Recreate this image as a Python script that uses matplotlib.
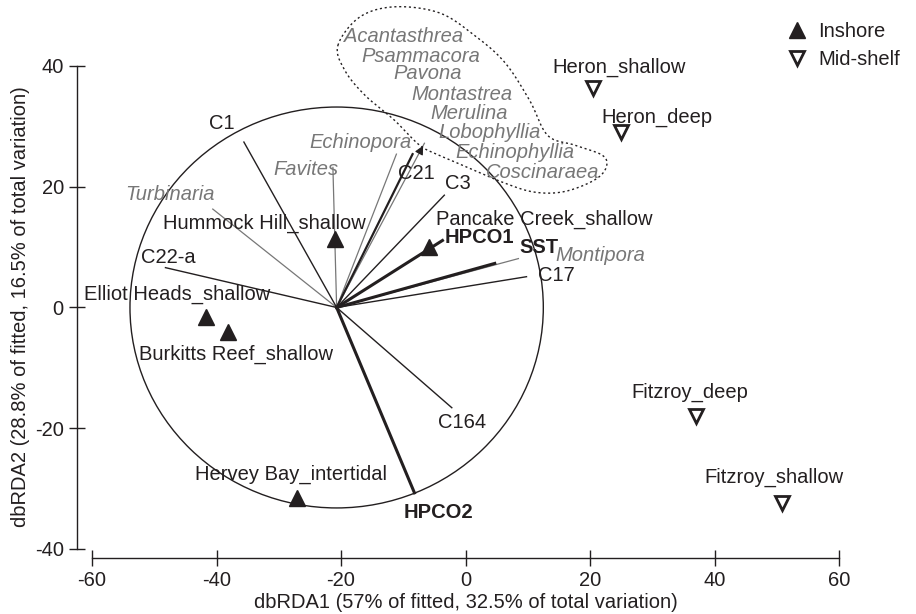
import numpy as np
import matplotlib.pyplot as plt
from matplotlib.patches import Circle

plt.rcParams['font.family'] = ['Liberation Sans', 'DejaVu Sans']
plt.rcParams['font.size'] = 14.5
plt.rcParams['axes.unicode_minus'] = False

INK = '#231f20'
GREY = '#777777'

# site scores (dbRDA1, dbRDA2)
site_names = ['Hummock Hill_shallow', 'Pancake Creek_shallow', 'Elliot Heads_shallow',
              'Burkitts Reef_shallow', 'Hervey Bay_intertidal',
              'Heron_shallow', 'Heron_deep', 'Fitzroy_deep', 'Fitzroy_shallow']
site_x = [-20.9, -5.9, -41.7, -38.2, -27.0, 20.5, 25.0, 37.1, 50.9]
site_y = [11.3, 10.0, -1.5, -4.1, -31.5, 36.3, 29.0, -17.9, -32.3]
site_shelf = ['Inshore'] * 5 + ['Mid-shelf'] * 4

# vector overlay (relative to the vector origin)
vec_origin = (-20.7, 0.0)
circle_r = 33.2
clade_names = ['C1', 'C22-a', 'C21', 'C3', 'C17', 'C164']
clade_dx = [-14.9, -27.5, 12.2, 17.3, 30.5, 18.5]
clade_dy = [27.4, 6.6, 25.4, 18.6, 5.1, -16.6]
env_names = ['HPCO1', 'SST', 'HPCO2']
env_dx = [17.0, 25.4, 12.5]
env_dy = [11.1, 7.3, -30.7]
genus_names = ['Favites', 'Echinopora', 'Turbinaria', 'Montipora']
genus_dx = [-0.6, 9.6, -19.9, 29.2]
genus_dy = [23.2, 25.4, 16.3, 8.1]
group_genera = ['Acantasthrea', 'Psammacora', 'Pavona', 'Montastrea',
                'Merulina', 'Lobophyllia', 'Echinophyllia', 'Coscinaraea']
group_dx, group_dy = 14.1, 27.2

# where the labels go (data coords)
site_label_pos = {
    'Hummock Hill_shallow': (-32.3, 13.9, 'center'),
    'Pancake Creek_shallow': (12.7, 14.6, 'center'),
    'Elliot Heads_shallow': (-46.3, 2.2, 'center'),
    'Burkitts Reef_shallow': (-36.9, -7.8, 'center'),
    'Hervey Bay_intertidal': (-28.1, -27.7, 'center'),
    'Heron_shallow': (24.7, 39.8, 'center'),
    'Heron_deep': (30.8, 31.5, 'center'),
    'Fitzroy_deep': (36.0, -14.1, 'center'),
    'Fitzroy_shallow': (49.6, -28.2, 'center'),
}
vec_label_pos = {
    'C1': (-39.2, 30.5, 'center'), 'C22-a': (-47.8, 8.3, 'center'),
    'C21': (-7.9, 22.2, 'center'), 'C3': (-1.3, 20.6, 'center'),
    'C17': (11.6, 5.3, 'left'), 'C164': (-0.5, -19.1, 'center'),
    'HPCO1': (-3.4, 11.6, 'left'), 'SST': (8.7, 10.0, 'left'),
    'HPCO2': (-4.3, -34.0, 'center'),
    'Favites': (-25.7, 22.9, 'center'), 'Echinopora': (-16.8, 27.4, 'center'),
    'Turbinaria': (-47.5, 18.7, 'center'), 'Montipora': (14.4, 8.6, 'left'),
}
group_label_x = [-10.0, -7.2, -6.1, -0.6, 0.6, 3.9, 8.0, 12.4]
group_label_y = [44.8, 41.6, 38.7, 35.3, 32.2, 28.9, 25.7, 22.4]
# outline drawn round the grouped genera
hull_x = [-20.5, -17.0, -11.4, -4.2, 1.4, 6.3, 10.3, 13.2, 17.5, 22.0, 22.6,
          20.7, 15.9, 11.1, 6.3, 0.6, -4.2, -7.4, -11.4, -16.2, -19.4]
hull_y = [43.4, 48.1, 49.8, 48.8, 45.1, 40.6, 34.3, 28.5, 26.9, 25.2, 23.2,
          21.1, 19.2, 19.1, 20.6, 23.1, 25.2, 26.9, 31.0, 35.2, 39.3]


def closed_spline(xs, ys, n=20):
    pts = np.column_stack([xs, ys])
    m = len(pts)
    t = np.linspace(0, 1, n, endpoint=False)[:, None]
    segs = []
    for i in range(m):
        p0, p1, p2, p3 = pts[i - 1], pts[i], pts[(i + 1) % m], pts[(i + 2) % m]
        segs.append(0.5 * (2 * p1 + (-p0 + p2) * t + (2 * p0 - 5 * p1 + 4 * p2 - p3) * t ** 2
                           + (-p0 + 3 * p1 - 3 * p2 + p3) * t ** 3))
    out = np.vstack(segs + [segs[0][:1]])
    return out[:, 0], out[:, 1]


fig = plt.figure(figsize=(9.16, 6.14), dpi=100)
ax = fig.add_axes([92 / 916, 65 / 614, 747 / 916, 543.4 / 614])
ax.set_xlim(-60, 60)
ax.set_ylim(-40, 50)

ox, oy = vec_origin
ax.add_patch(Circle(vec_origin, circle_r, fill=False, ec=INK, lw=1.0, clip_on=False))

for name, dx, dy in zip(genus_names, genus_dx, genus_dy):
    ax.plot([ox, ox + dx], [oy, oy + dy], color=GREY, lw=0.9, clip_on=False)
ax.plot([ox, ox + group_dx], [oy, oy + group_dy], color=GREY, lw=0.9, clip_on=False)
for name, dx, dy in zip(clade_names, clade_dx, clade_dy):
    ax.plot([ox, ox + dx], [oy, oy + dy], color=INK, lw=1.6 if name == 'C21' else 1.0,
            clip_on=False)
for name, dx, dy in zip(env_names, env_dx, env_dy):
    ax.plot([ox, ox + dx], [oy, oy + dy], color=INK, lw=2.2, clip_on=False)
ax.annotate('', xy=(ox + group_dx, oy + group_dy),
            xytext=(ox + group_dx * 0.93, oy + group_dy * 0.93),
            arrowprops=dict(arrowstyle='-|>', color=INK, lw=0.8, mutation_scale=13))

hx, hy = closed_spline(hull_x, hull_y)
ax.plot(hx, hy, color=INK, lw=1.0, ls=(0, (1.5, 2.0)), clip_on=False)

for name, gx, gy in zip(group_genera, group_label_x, group_label_y):
    ax.text(gx, gy, name, color=GREY, style='italic', ha='center', va='center')

for name, (lx, ly, ha) in vec_label_pos.items():
    if name in env_names:
        ax.text(lx, ly, name, color=INK, weight='bold', ha=ha, va='center')
    elif name in genus_names:
        ax.text(lx, ly, name, color=GREY, style='italic', ha=ha, va='center')
    else:
        ax.text(lx, ly, name, color=INK, ha=ha, va='center')

sx = np.array(site_x)
sy = np.array(site_y)
shelf = np.array(site_shelf)
ins = shelf == 'Inshore'
ax.plot(sx[ins], sy[ins], ls='none', marker='^', ms=11, mfc=INK, mec=INK,
        label='Inshore', clip_on=False)
ax.plot(sx[~ins], sy[~ins], ls='none', marker='v', ms=10, mfc='white', mec=INK,
        mew=2, label='Mid-shelf', clip_on=False)

for name in site_names:
    lx, ly, ha = site_label_pos[name]
    ax.text(lx, ly, name, color=INK, ha=ha, va='center')

ax.legend(loc='upper left', bbox_to_anchor=(787 / 916, 1 - 22 / 614),
          bbox_transform=fig.transFigure, frameon=False, numpoints=1,
          handlelength=1.0, handletextpad=0.55, labelspacing=0.45,
          borderpad=0, borderaxespad=0, fontsize=14.5, labelcolor=INK)

for side in ['top', 'right']:
    ax.spines[side].set_visible(False)
ax.spines['left'].set_position(('outward', 10.8))
ax.spines['bottom'].set_position(('outward', 6.5))
ax.spines['left'].set_bounds(-40, 40)
ax.spines['bottom'].set_bounds(-60, 60)
for side in ['left', 'bottom']:
    ax.spines[side].set_color(INK)
    ax.spines[side].set_linewidth(1.0)
ax.set_xticks([-60, -40, -20, 0, 20, 40, 60])
ax.set_yticks([-40, -20, 0, 20, 40])
ax.tick_params(direction='inout', length=11, width=1, colors=INK, labelsize=14.5, pad=4)

fig.text(466 / 916, 1 - 603 / 614, 'dbRDA1 (57% of fitted, 32.5% of total variation)',
         ha='center', va='center', color=INK, fontsize=14.5)
fig.text(21 / 916, 1 - 307 / 614, 'dbRDA2 (28.8% of fitted, 16.5% of total variation)',
         ha='center', va='center', rotation=90, color=INK, fontsize=14.5)

fig.savefig('out.png', dpi=100)
